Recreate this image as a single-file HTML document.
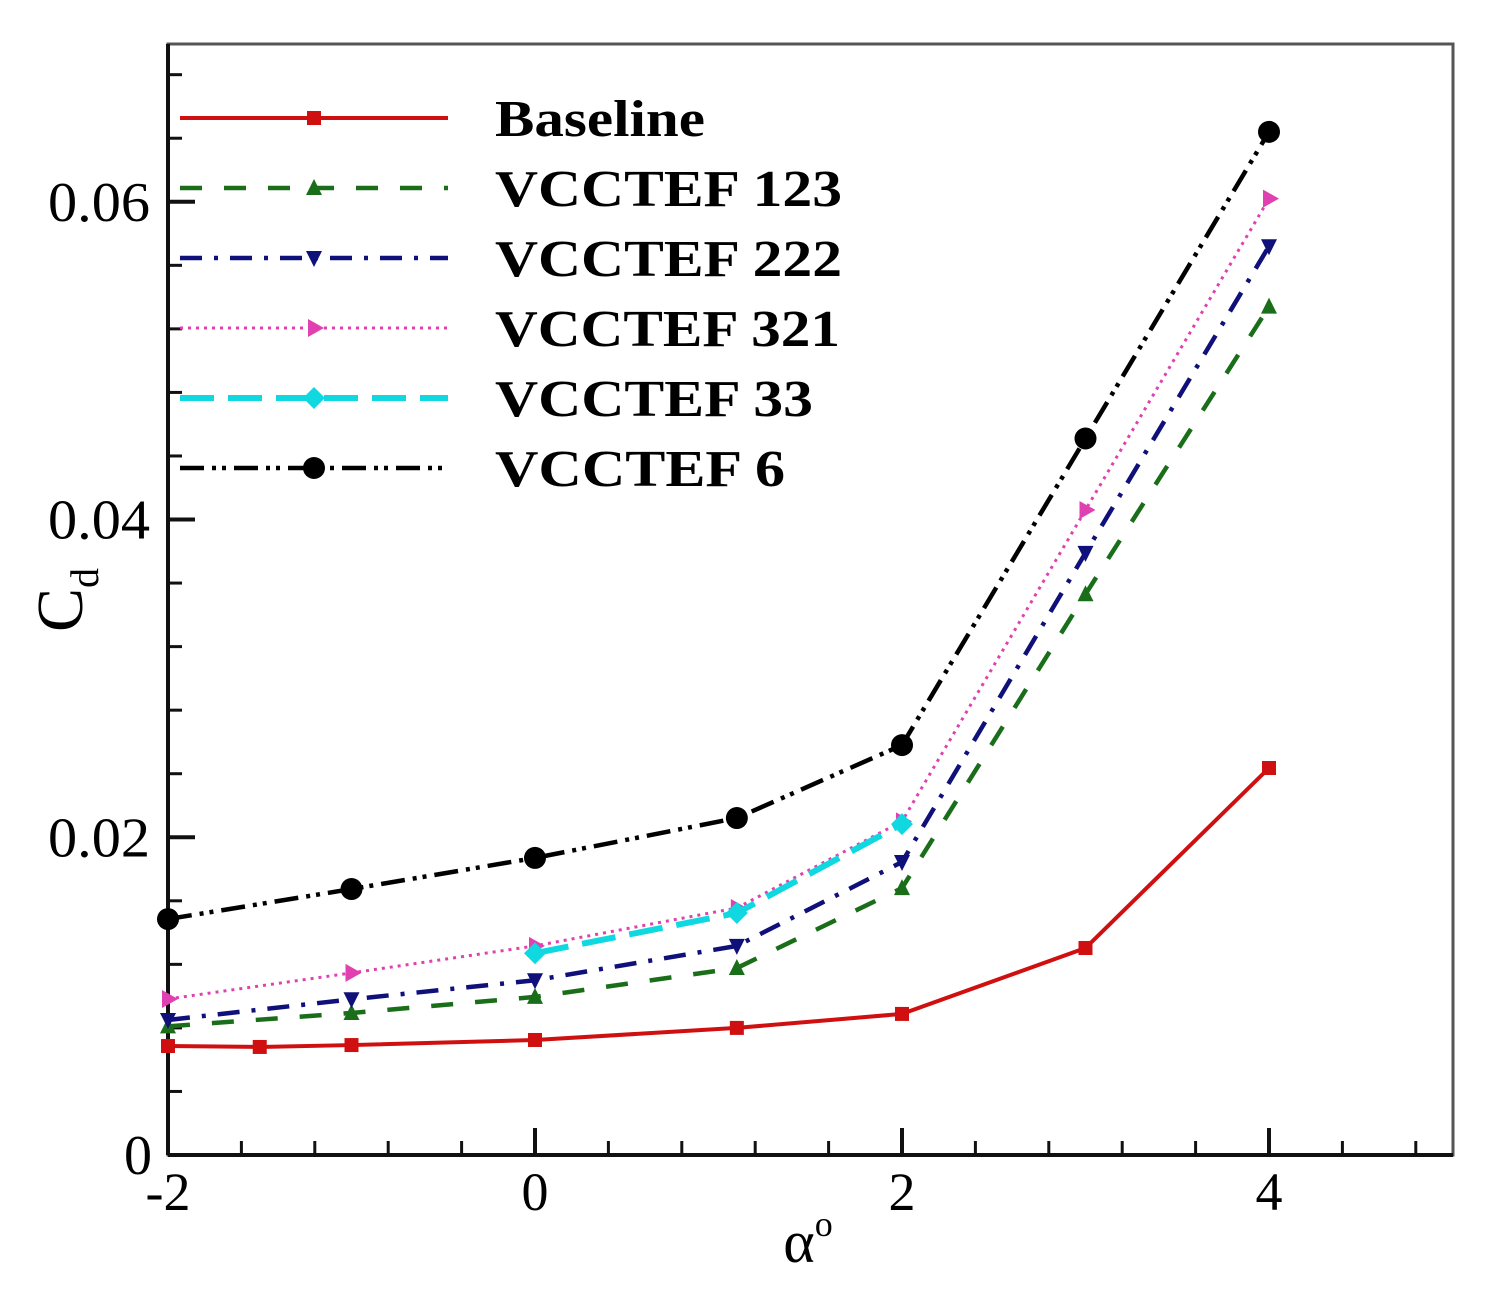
<!DOCTYPE html>
<html><head><meta charset="utf-8"><style>
html,body{margin:0;padding:0;background:#fff;}
svg{display:block;font-family:"Liberation Serif",serif;}
</style></head><body>
<svg id="chart" width="1492" height="1299" viewBox="0 0 1492 1299" xmlns="http://www.w3.org/2000/svg">
<rect x="168" y="44" width="1285" height="1111" fill="none" stroke="#555" stroke-width="3"/>
<line x1="168" y1="1155" x2="1453" y2="1155" stroke="#111" stroke-width="4"/>
<line x1="168" y1="44" x2="168" y2="1155" stroke="#111" stroke-width="4"/>
<g id="ticks"></g>
<g id="series"></g>
<g id="legend"></g>
<text x="808" y="1262" font-size="60" text-anchor="middle">α<tspan font-size="36" dy="-26">o</tspan></text>
<text transform="translate(82,600) rotate(-90)" font-size="66" text-anchor="middle">C<tspan font-size="40" dy="16">d</tspan></text>
</svg>
<script>
const xTicks=[-2,0,2,4];
const xTickLabels=["-2","0","2","4"];
const yTicks=[0,0.02,0.04,0.06];
const yTickLabels=["0","0.02","0.04","0.06"];
const seriesNames=["Baseline","VCCTEF 123","VCCTEF 222","VCCTEF 321","VCCTEF 33","VCCTEF 6"];
const xBaseline=[-2,-1.5,-1,0,1.1,2,3,4];
const yBaseline=[0.00686,0.0068,0.00692,0.00724,0.008,0.00888,0.01303,0.02436];
const xFull=[-2,-1,0,1.1,2,3,4];
const y123=[0.0081,0.00894,0.00995,0.01177,0.0168,0.0353,0.0534];
const y222=[0.0085,0.0098,0.011,0.01316,0.01844,0.0379,0.0572];
const y321=[0.00982,0.01146,0.01316,0.01555,0.021,0.0406,0.0602];
const x33=[0,1.1,2];
const y33=[0.0127,0.01523,0.02083];
const y6=[0.01485,0.01674,0.0187,0.02121,0.0258,0.0451,0.0644];

const NS="http://www.w3.org/2000/svg";
const X=v=>168+(v+2)*183.5;
const Y=v=>1155-v*15887;
function mk(tag,attrs,parent){const e=document.createElementNS(NS,tag);for(const k in attrs)e.setAttribute(k,attrs[k]);parent.appendChild(e);return e;}
const tg=document.getElementById('ticks');
for(let v=-2;v<=5.001;v+=0.4){const major=xTicks.some(t=>Math.abs(t-v)<1e-6);
 const l=mk('line',{x1:X(v),x2:X(v),y1:1155,y2:1155-(major?27:14),stroke:'#111','stroke-width':major?4:3},tg);
 
 }
xTicks.forEach((t,i)=>{const e=mk('text',{x:X(t),y:1210,'font-size':54,'text-anchor':'middle'},tg);e.textContent=xTickLabels[i];
 
 });
for(let v=0;v<=0.0701;v+=0.004){const major=yTicks.some(t=>Math.abs(t-v)<1e-7);
 const l=mk('line',{x1:168,x2:168+(major?27:14),y1:Y(v),y2:Y(v),stroke:'#111','stroke-width':major?4:3},tg);
 
 }
yTicks.forEach((t,i)=>{const a={x:152,y:Y(t)+19,'font-size':56,'text-anchor':'end'};
 if(yTickLabels[i].length>1){a.textLength=102;a.lengthAdjust='spacingAndGlyphs';a.x=150;a['text-anchor']='start';a.x=48;}
 const e=mk('text',a,tg);e.textContent=yTickLabels[i];
 
 });

const styles=[
 {c:'#d01010',d:'',w:4,m:'square'},
 {c:'#1a6e1a',d:'22 22',w:4.5,m:'up'},
 {c:'#10107a',d:'22 12 4 12',w:4.5,m:'down'},
 {c:'#e040b0',d:'3 5',w:3,m:'right'},
 {c:'#10d8e0',d:'34 14',w:6,m:'diamond'},
 {c:'#000',d:'24 8 4 6 4 8',w:4.5,m:'circle'}];
const legendWidths=[210,347,347,345,318,290];
const data=[[xBaseline,yBaseline],[xFull,y123],[xFull,y222],[xFull,y321],[x33,y33],[xFull,y6]];
function marker(type,cx,cy,c,g){let s;
 if(type==='square')s=mk('rect',{x:cx-7,y:cy-7,width:14,height:14,fill:c},g);
 else if(type==='circle')s=mk('circle',{cx,cy,r:11,fill:c},g);
 else if(type==='up')s=mk('polygon',{points:`${cx},${cy-9} ${cx-8},${cy+7} ${cx+8},${cy+7}`,fill:c},g);
 else if(type==='down')s=mk('polygon',{points:`${cx},${cy+9} ${cx-8},${cy-7} ${cx+8},${cy-7}`,fill:c},g);
 else if(type==='right')s=mk('polygon',{points:`${cx+10},${cy} ${cx-6},${cy-9} ${cx-6},${cy+9}`,fill:c},g);
 else s=mk('polygon',{points:`${cx},${cy-11} ${cx+11},${cy} ${cx},${cy+11} ${cx-11},${cy}`,fill:c},g);
 
 }
const sg=document.getElementById('series');
const lg=document.getElementById('legend');
data.forEach((d,i)=>{const st=styles[i];
 const g=mk('g',{},sg);
 
 
 const pts=d[0].map((x,j)=>X(x)+','+Y(d[1][j])).join(' ');
 const p=mk('polyline',{points:pts,fill:'none',stroke:st.c,'stroke-width':st.w,'stroke-dasharray':st.d},g);
 
 
 d[0].forEach((x,j)=>marker(st.m,X(x),Y(d[1][j]),st.c,g));
 const ly=118+i*70;
 const le=mk('g',{},lg);
 
 
 mk('line',{x1:180,x2:448,y1:ly,y2:ly,stroke:st.c,'stroke-width':st.w,'stroke-dasharray':st.d},le);
 marker(st.m,314,ly,st.c,le);
 const t=mk('text',{x:495,y:ly+18,'font-size':52,'font-weight':'bold',textLength:legendWidths[i],lengthAdjust:'spacingAndGlyphs'},le);t.textContent=seriesNames[i];
});
</script>
</body></html>
